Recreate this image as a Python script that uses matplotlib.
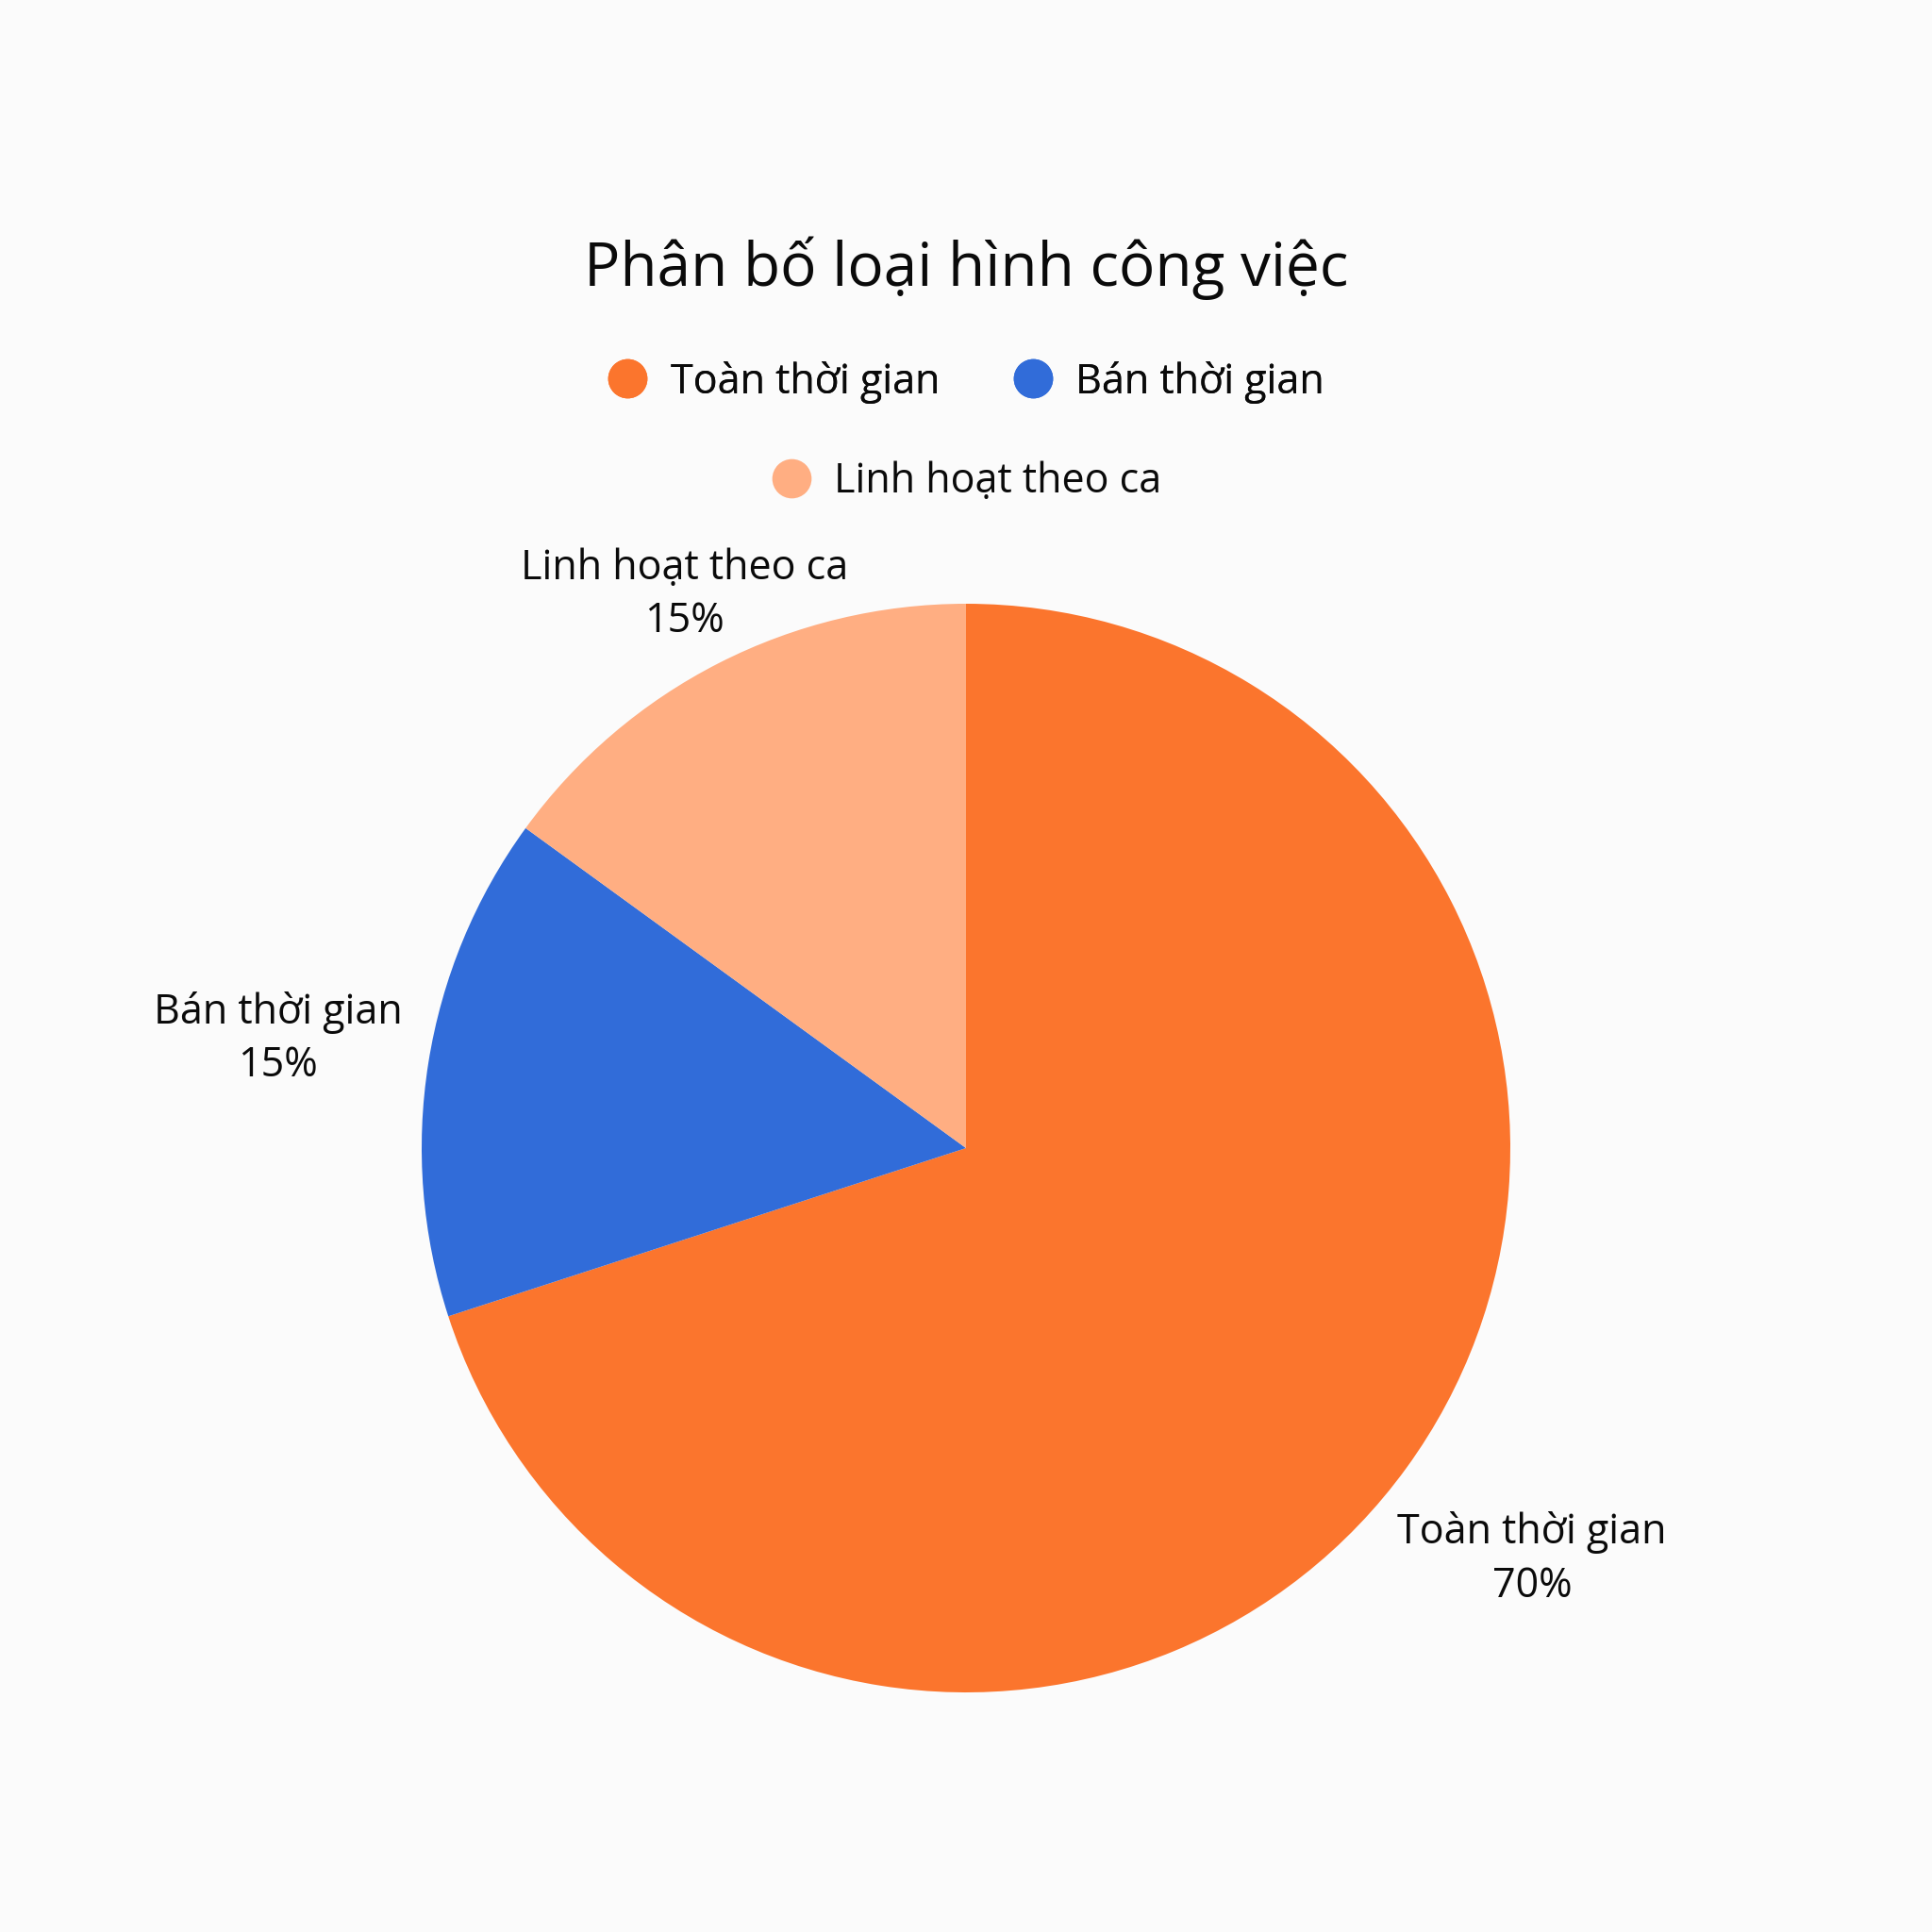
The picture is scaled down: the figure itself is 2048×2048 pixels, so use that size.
import numpy as np
import matplotlib.pyplot as plt
from matplotlib.lines import Line2D

# data
categories = ["Toàn thời gian", "Bán thời gian", "Linh hoạt theo ca"]
shares = [70, 15, 15]
colors = ["#FB752D", "#316CD9", "#FFAE82"]
title = "Phân bố loại hình công việc"

BG = "#FBFBFB"
TXT = "#0A0A0A"
plt.rcParams["font.family"] = ["Open Sans", "DejaVu Sans"]

fig = plt.figure(figsize=(20.48, 20.48), dpi=100, facecolor=BG)

# pie axes: center (1024, 1217) px, radius 577 px
R = 577 / 2048
cx, cy = 1024 / 2048, 1 - 1217 / 2048
ax = fig.add_axes([cx - R, cy - R, 2 * R, 2 * R])
ax.set_facecolor(BG)

wedges, _ = ax.pie(shares, colors=colors, startangle=90, counterclock=False,
                   wedgeprops=dict(linewidth=0))
ax.set_xlim(-1, 1)
ax.set_ylim(-1, 1)
ax.set_aspect("equal")
ax.axis("off")

# outside labels
label_dist = [1.285, 1.28, 1.14]
for w, name, val, d in zip(wedges, categories, shares, label_dist):
    ang = np.deg2rad((w.theta1 + w.theta2) / 2)
    ax.text(d * np.cos(ang), d * np.sin(ang), f"{name}\n{val}%",
            ha="center", va="center", multialignment="center",
            fontsize=31, color=TXT, linespacing=1.36, clip_on=False)

# title
fig.text(0.5, 1 - 284 / 2048, title, ha="center", va="center",
         fontsize=46, color=TXT)

# legend (2 + 1 centered rows)
handles = [Line2D([], [], linestyle="none", marker="o", markersize=30,
                  markerfacecolor=c, markeredgewidth=0) for c in colors]
leg_kw = dict(frameon=False, fontsize=31, handlelength=1.0, handletextpad=0.55,
              columnspacing=1.8, loc="center", borderaxespad=0, labelcolor=TXT)
leg1 = fig.legend(handles[:2], categories[:2], ncol=2,
                  bbox_to_anchor=(0.5, 1 - 405 / 2048), **leg_kw)
fig.add_artist(leg1)
fig.legend(handles[2:], categories[2:], ncol=1,
           bbox_to_anchor=(0.5, 1 - 511 / 2048), **leg_kw)

fig.savefig("out.png", dpi=100, facecolor=BG)
